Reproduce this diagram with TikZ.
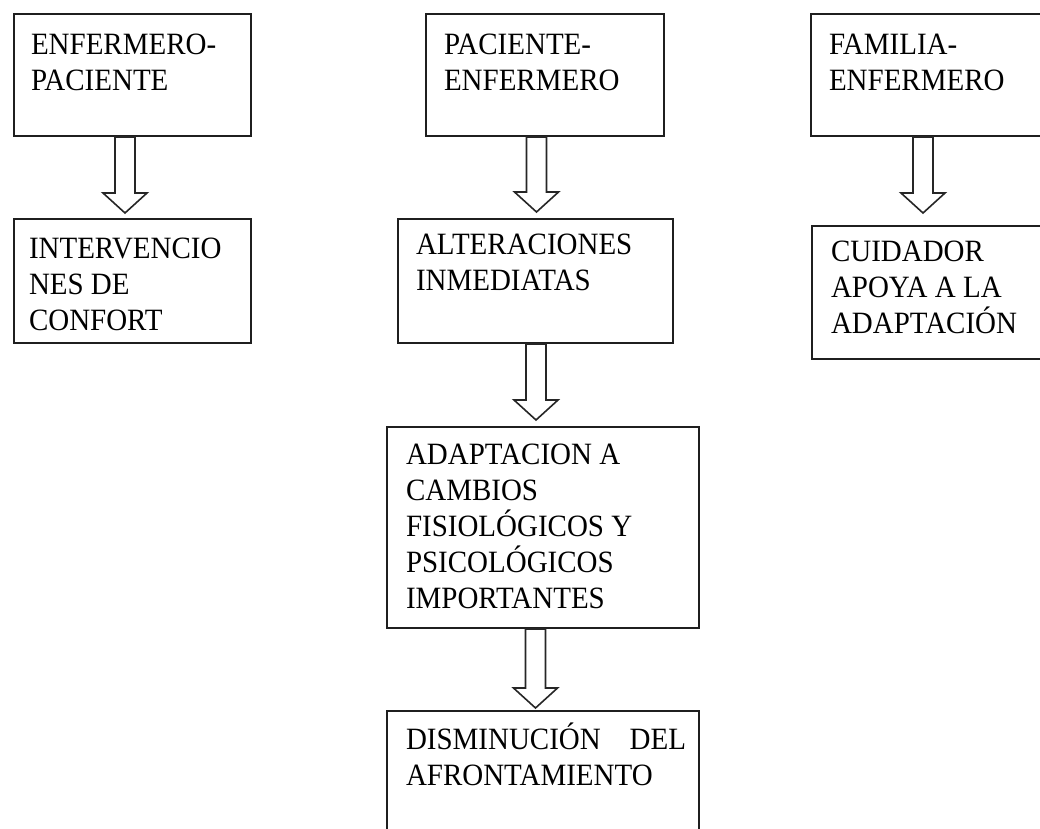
\documentclass[tikz,border=0pt]{standalone}
\usepackage{fontspec}
\setmainfont{Liberation Serif}[FakeStretch=0.935]
\usetikzlibrary{calc}
\tikzset{
  box/.style={draw=black!88, line width=2pt, fill=white, rectangle,
    anchor=north west, font=\fontsize{31}{36}\selectfont},
  blockarrow/.style={draw=black!85, line width=1.6pt, fill=white, line join=miter},
}
% text block of a box: width, height, lines
\newcommand\boxtext[3]{\parbox[t][#2][t]{#1}{\raggedright\rule{0pt}{28pt}#3}}
% hollow block arrow from the bottom of #1 down towards the top of #2,
% on the vertical axis x=#3, stopping #4 above the target
\newcommand\flowarrow[4]{%
  \draw[blockarrow] let \p1=(#1.south), \p2=(#2.north) in
    (#3pt-10pt,\y1) -- (#3pt-10pt,\y2+#4pt+20pt) -- (#3pt-22pt,\y2+#4pt+20pt)
    -- (#3pt,\y2+#4pt) -- (#3pt+22pt,\y2+#4pt+20pt) -- (#3pt+10pt,\y2+#4pt+20pt)
    -- (#3pt+10pt,\y1) -- cycle;}
\begin{document}
\begin{tikzpicture}[x=1pt,y=-1pt]
\fill[white] (0,0) rectangle (1040,828);
\clip (0,0) rectangle (1040,828);

% left column
\node[box, inner xsep=17pt, inner ysep=12pt] (enfpac) at (13,13)
  {\boxtext{203pt}{98pt}{ENFERMERO-\\PACIENTE}};
\node[box, inner xsep=15pt, inner ysep=11pt] (interv) at (13,218)
  {\boxtext{207pt}{102pt}{INTERVENCIO\\NES DE\\CONFORT}};

% middle column
\node[box, inner xsep=18pt, inner ysep=12pt] (pacenf) at (425,13)
  {\boxtext{202pt}{98pt}{PACIENTE-\\ENFERMERO}};
\node[box, inner xsep=18pt, inner ysep=7pt] (alter) at (397,218)
  {\boxtext{239pt}{110pt}{ALTERACIONES\\INMEDIATAS}};
\node[box, inner xsep=19pt, inner ysep=9pt] (adapt) at (386,426)
  {\boxtext{274pt}{183pt}{ADAPTACION A\\CAMBIOS\\FISIOLÓGICOS Y\\PSICOLÓGICOS\\IMPORTANTES}};
\node[box, inner xsep=19pt, inner ysep=10pt] (dismin) at (386,710)
  {\boxtext{274pt}{120pt}{\makebox[0pt][l]{\hbox to 280pt{DISMINUCIÓN\hfill DEL}}\\AFRONTAMIENTO}};

% right column
\node[box, inner xsep=18pt, inner ysep=12pt] (famenf) at (810,13)
  {\boxtext{214pt}{98pt}{FAMILIA-\\ENFERMERO}};
\node[box, inner xsep=19pt, inner ysep=7pt] (cuidador) at (811,225)
  {\boxtext{212pt}{119pt}{CUIDADOR\\APOYA A LA\\ADAPTACIÓN}};

% connectors
\flowarrow{enfpac}{interv}{125}{5}
\flowarrow{pacenf}{alter}{536.5}{6}
\flowarrow{alter}{adapt}{536}{6}
\flowarrow{adapt}{dismin}{535.5}{2}
\flowarrow{famenf}{cuidador}{923}{12}
\end{tikzpicture}
\end{document}
